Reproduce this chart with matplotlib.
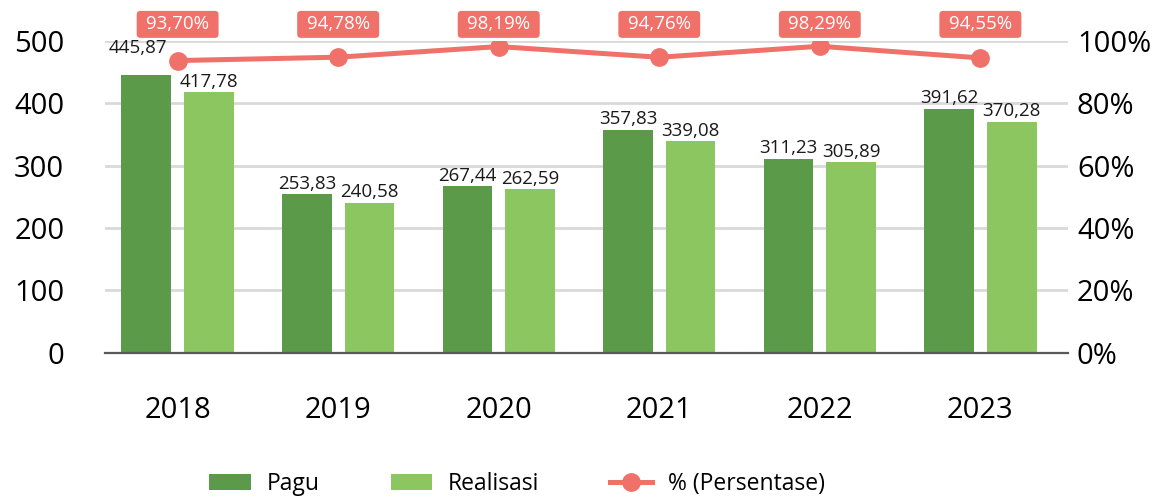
import matplotlib
matplotlib.use("Agg")
import matplotlib.pyplot as plt
import numpy as np

plt.rcParams['font.family'] = ['Open Sans', 'DejaVu Sans']

years = ["2018", "2019", "2020", "2021", "2022", "2023"]
pagu = [445.87, 253.83, 267.44, 357.83, 311.23, 391.62]
realisasi = [417.78, 240.58, 262.59, 339.08, 305.89, 370.28]
persen = [93.70, 94.78, 98.19, 94.76, 98.29, 94.55]

c_pagu = "#5A9A48"
c_real = "#8BC660"
c_line = "#F0716A"


def fmt(v, nd=2):
    return ("{:.%df}" % nd).format(v).replace(".", ",")


fig = plt.figure(figsize=(11.62, 4.99), dpi=100)
ax = fig.add_axes([0.090, 0.293, 0.829, 0.625])
ax2 = ax.twinx()

x = np.arange(len(years))
w = 0.31
off = 0.195
ax.bar(x - off, pagu, w, color=c_pagu, label="Pagu", zorder=2)
ax.bar(x + off, realisasi, w, color=c_real, label="Realisasi", zorder=2)

for i in range(len(years)):
    dx, dy = 0, 1.0
    if i == 0:
        # keep the first label clear of the line
        dx, dy = -6, 13
    ax.annotate(fmt(pagu[i]), (x[i] - off, pagu[i]), xytext=(dx, dy),
                textcoords="offset points", ha="center", va="bottom",
                fontsize=13.5, color="#1a1a1a")
    ax.annotate(fmt(realisasi[i]), (x[i] + off, realisasi[i]), xytext=(0, 1.0),
                textcoords="offset points", ha="center", va="bottom",
                fontsize=13.5, color="#1a1a1a")

ax.set_ylim(0, 500)
ax.set_xlim(-0.455, 5.545)
ax.set_yticks([0, 100, 200, 300, 400, 500])
ax.yaxis.grid(True, color="#D9D9D9", linewidth=2)
ax.set_axisbelow(True)
ax.set_xticks(x)
ax.set_xticklabels(years)
ax.tick_params(axis="x", length=0, pad=31, labelsize=21)
ax.tick_params(axis="y", length=0, pad=29, labelsize=21)
for s in ["top", "left", "right"]:
    ax.spines[s].set_visible(False)
ax.spines["bottom"].set_color("#595959")
ax.spines["bottom"].set_linewidth(1.6)

ax2.plot(x, persen, color=c_line, linewidth=3.6, marker="o", markersize=12.5,
         label="% (Persentase)", zorder=3)
for i in range(len(years)):
    ax2.text(x[i], 105.3, " " + fmt(persen[i]) + "% ", ha="center", va="center",
             fontsize=13.5, color="white", clip_on=False,
             bbox=dict(boxstyle="round,pad=0.24,rounding_size=0.2",
                       fc=c_line, ec="none"))
ax2.set_ylim(0, 100)
ax2.set_yticks([0, 20, 40, 60, 80, 100])
ax2.set_yticklabels([f"{v}%" for v in [0, 20, 40, 60, 80, 100]])
ax2.tick_params(axis="y", length=0, pad=6.5, labelsize=21)
for s in ["top", "left", "right", "bottom"]:
    ax2.spines[s].set_visible(False)

h1, l1 = ax.get_legend_handles_labels()
h2, l2 = ax2.get_legend_handles_labels()
fig.legend(h1 + h2, l1 + l2, loc="center", bbox_to_anchor=(0.445, 0.03),
           ncol=3, frameon=False, fontsize=16.5, columnspacing=3.1,
           handlelength=1.8, handleheight=0.7, handletextpad=0.7)

fig.savefig("out.png", dpi=100)
